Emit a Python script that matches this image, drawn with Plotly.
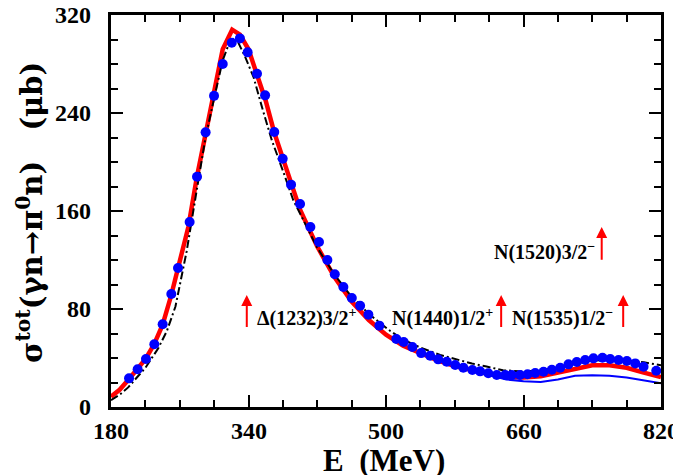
import plotly.graph_objects as go

# ---- data ----
data_E = [201, 211, 220.7, 230.4, 240.1, 250.2, 258, 271.5, 280.1, 290.1, 299.9, 310, 320.5, 330,
          339, 349.9, 359.3, 370, 379.8, 389.5, 400, 412, 422, 431.8, 440.4, 450.4, 460.2, 469.9,
          479.5, 492.3, 512, 520.6, 530.7, 540.9, 551.4, 560.7, 570.7, 580.5, 590, 600.5, 609.5,
          619, 628.9, 638.7, 646.4, 656, 664.7, 673.6, 683.3, 693, 702.7, 712.3, 722, 731.8,
          741.4, 751.9, 760.9, 770.6, 780.3, 790, 799.7, 814.5]
data_sigma = [23.4, 30.8, 39.2, 51.2, 67.5, 92.2, 113.5, 151, 188, 224.2, 254, 280, 297.4, 300.9,
              289.5, 272, 254.4, 224.5, 202.7, 181.5, 165.7, 147, 134.7, 120, 108.3, 98, 89, 82.7,
              75.4, 66.4, 55.5, 53, 49, 44, 41.9, 38.9, 37, 34.3, 32.1, 30.2, 29.1,
              27.5, 26.1, 26.1, 26.1, 26.1, 26.7, 27.8, 28.8, 30.4, 32.1, 34.8, 36.7, 38.4,
              39.7, 40.2, 39.2, 38.4, 37.6, 35.6, 32.9, 29.6]

red_E = [180, 190, 200, 210, 220, 230, 240, 250, 260, 270, 280, 290, 300, 310, 321, 330, 340, 350,
         360, 370, 380, 390, 400, 410, 420, 440, 460, 480, 500, 520, 540, 560, 580, 600, 620, 640,
         660, 680, 700, 720, 740, 760, 780, 800, 820]
red_sigma = [8.4, 14, 22, 30, 39, 51, 67, 91, 118, 147, 188, 222, 254, 292, 308, 304, 292, 272,
             250, 224, 202, 181, 161, 146, 131, 106, 86, 71, 59, 50, 43.5, 38, 33.5, 30, 27, 24.5,
             24, 25, 28, 31.5, 34, 34, 32, 28, 24.5]

blue_E = [620, 640, 660, 680, 700, 720, 740, 760, 780, 800, 820]
blue_sigma = [26, 22.5, 21, 20.5, 22.5, 25.5, 26, 25.5, 24, 21.5, 19.3]

black_E = [180, 190, 200, 210, 220, 235, 245, 255, 268, 280, 290, 300, 310, 318, 325, 336, 346,
           356, 367, 381, 392, 400, 420, 440, 460, 480, 505, 520, 540, 563, 580, 600, 617, 636,
           660, 680, 700, 720, 740, 760, 780, 800, 820]
black_sigma = [5.5, 10, 16, 24, 32, 48, 62, 82, 127, 178, 220, 252, 283, 298, 302, 286, 269,
               244, 218, 191, 169, 158, 130, 108, 90, 76, 62, 55, 48.5, 42.5, 39, 35.5, 33, 30,
               29, 30, 32.5, 35.5, 38, 38.5, 38, 36.5, 34]

# resonance markers
res_labels = ["Δ(1232)3/2<sup>+</sup>", "N(1440)1/2<sup>+</sup>",
              "N(1535)1/2<sup>−</sup>", "N(1520)3/2<sup>−</sup>"]
res_E = [338, 634, 776, 751]
res_arrow_lo = [64, 64, 64, 119]
res_arrow_hi = [91.4, 91.4, 91.4, 147]
res_label_E = [347.6, 627, 766.7, 745.8]
res_label_sigma = [72.7, 72.7, 72.7, 126.8]
res_label_anchor = ["left", "right", "right", "right"]

x_ticks = [180, 340, 500, 660, 820]
y_ticks = [0, 80, 160, 240, 320]
x_title = "E&nbsp;&nbsp;(MeV)"
y_title = "σ<sup>tot</sup>(γn→π<sup>0</sup>n)&nbsp;&nbsp;&nbsp;(μb)"

FONT = "Liberation Serif"
TFONT = "DejaVu Serif"

fig = go.Figure()
fig.add_trace(go.Scatter(x=red_E, y=red_sigma, mode="lines",
                         line=dict(color="#ff0000", width=4.5), showlegend=False))
fig.add_trace(go.Scatter(x=blue_E, y=blue_sigma, mode="lines",
                         line=dict(color="#0000ff", width=2), showlegend=False))
fig.add_trace(go.Scatter(x=black_E, y=black_sigma, mode="lines",
                         line=dict(color="#000000", width=2, dash="8px,3px,2px,3px"),
                         showlegend=False))
fig.add_trace(go.Scatter(x=data_E, y=data_sigma, mode="markers",
                         marker=dict(color="#0000ff", size=10, line=dict(width=0)),
                         showlegend=False))

for lab, e, lo, hi, le, ls, anc in zip(res_labels, res_E, res_arrow_lo, res_arrow_hi,
                                       res_label_E, res_label_sigma, res_label_anchor):
    fig.add_annotation(x=e, y=hi, ax=e, ay=lo, xref="x", yref="y", axref="x", ayref="y",
                       showarrow=True, arrowhead=2, arrowsize=1.1, arrowwidth=2,
                       arrowcolor="#ff0000", text="")
    fig.add_annotation(x=le, y=ls, xref="x", yref="y", text=lab, showarrow=False,
                       xanchor=anc, yanchor="middle",
                       font=dict(family=FONT, size=20, color="black", weight="bold"))

tickfont = dict(family=FONT, size=24, color="black", weight="bold")
# tick labels placed as text at the axis tick values
for v in x_ticks:
    fig.add_annotation(x=v, y=0, xref="x", yref="paper", text=str(v), showarrow=False,
                       xanchor="center", yanchor="middle", yshift=-24, borderpad=0,
                       font=tickfont)
for v in y_ticks:
    fig.add_annotation(x=0, y=v, xref="paper", yref="y", text=str(v), showarrow=False,
                       xanchor="right", yanchor="middle", xshift=-19, borderpad=0,
                       font=tickfont)
fig.add_annotation(x=0.496, y=0, xref="paper", yref="paper", text=x_title, showarrow=False,
                   xanchor="center", yanchor="middle", yshift=-53,
                   font=dict(family=FONT, size=31, color="black", weight="bold"))
fig.add_annotation(x=0, y=0.495, xref="paper", yref="paper", text=y_title, showarrow=False,
                   xanchor="center", yanchor="middle", xshift=-81, textangle=-90,
                   font=dict(family=TFONT, size=29, color="black", weight="bold"))

axis_common = dict(showline=True, linewidth=2.7, linecolor="black", mirror="ticks",
                   ticks="inside", ticklen=12, tickwidth=2.2, tickcolor="black",
                   showgrid=False, zeroline=False, showticklabels=False)

fig.update_xaxes(range=[180, 820], tickvals=x_ticks,
                 minor=dict(dtick=40, tick0=180, ticks="inside", ticklen=7, tickwidth=2,
                            tickcolor="black"),
                 **axis_common)
fig.update_yaxes(range=[0, 320], tickvals=y_ticks,
                 minor=dict(dtick=20, tick0=0, ticks="inside", ticklen=7, tickwidth=2,
                            tickcolor="black"),
                 **axis_common)

# page has an 8px body margin, so the plot box is placed 8px up/left in figure coords
fig.update_layout(width=681, height=475, plot_bgcolor="white", paper_bgcolor="white",
                  margin=dict(l=103, r=28, t=7, b=76, autoexpand=False))

fig.write_html("out.html")
